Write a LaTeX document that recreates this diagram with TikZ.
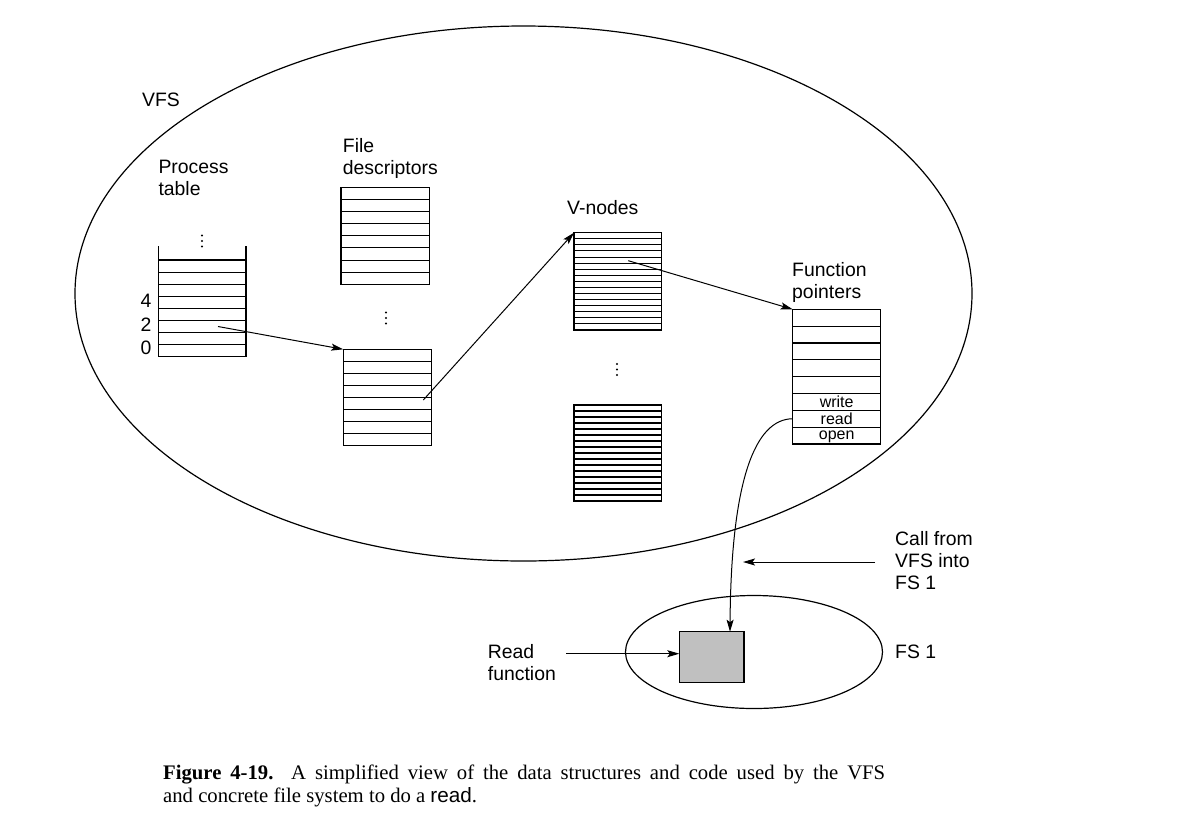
\documentclass[tikz,border=0pt]{standalone}
\usepackage{fontspec}
\setmainfont{Liberation Sans}
\newfontfamily\capserif{Liberation Serif}
\newfontfamily\capsans{Liberation Sans}
\usetikzlibrary{arrows.meta,calc,shapes.geometric}

\definecolor{boxgray}{RGB}{192,192,192}

\begin{document}
\begin{tikzpicture}[x=1pt,y=-1pt,
  % multi-line labels are placed by the baseline of their last line
  lbl/.style={inner sep=0pt, anchor=base west, align=left,
              font=\fontsize{19.4}{22}\selectfont},
  idx/.style={inner sep=0pt, anchor=base east, font=\fontsize{19.4}{22}\selectfont},
  cell/.style={inner sep=0pt, anchor=base, font=\fontsize{16}{16}\selectfont},
  tbl/.style={draw, line width=1.05pt, inner sep=0pt, outer sep=0pt, anchor=north west},
  rowline/.style={line width=1.05pt},
  conn/.style={line width=1pt, -{Stealth[length=12pt,width=7pt,inset=2.5pt]}},
  oval/.style={draw, ellipse, line width=1.2pt, inner sep=0pt},
  dot/.style={fill=black},
]
\useasboundingbox (0,0) rectangle (1200,831);

% ---------- outer ellipses ----------
\node[oval, minimum width=897pt, minimum height=535pt] (vfs) at (523.5,293.5) {};
\node[oval, minimum width=257pt, minimum height=113pt] (fs1) at (754,652) {};

% ---------- labels ----------
\node[lbl] (vfslbl) at (142,106) {VFS};
\node[lbl] (ptlbl) at (158.3,195.3) {Process\\table};
\node[lbl] (fdlbl) at (342.7,174.7) {File\\descriptors};
\node[lbl] (vnlbl) at (567,214) {V-nodes};
\node[lbl] (fplbl) at (792,298) {Function\\pointers};
\node[lbl] (calllbl) at (895,589) {Call from\\VFS into\\FS 1};
\node[lbl] (fs1lbl) at (895,658.5) {FS 1};
\node[lbl] (rflbl) at (487.7,680.3) {Read\\function};

% ---------- process table (open at the top) ----------
\node[inner sep=0pt, outer sep=0pt, anchor=north west,
      minimum width=87.7pt, minimum height=96.7pt] (pt) at (158.3,260) {};
\draw[rowline] ([yshift=14pt]pt.north west) -- (pt.south west)
               -- (pt.south east) -- ([yshift=14pt]pt.north east);
\foreach \i in {0,...,7}
  \draw[rowline] ($(pt.north west)!\i/8!(pt.south west)$) -- ($(pt.north east)!\i/8!(pt.south east)$);
\node[idx] (i4) at (151.7,307.3) {4};
\node[idx] (i2) at (151.7,331.7) {2};
\node[idx] (i0) at (151.7,354) {0};
\foreach \y in {235.5,241,246.5} \fill[dot] (202,\y) circle (1.2pt);

% ---------- file descriptor tables ----------
\node[tbl, minimum width=88.3pt, minimum height=97pt] (fd1) at (341,187.3) {};
\foreach \i in {1,...,7}
  \draw[rowline] ($(fd1.north west)!\i/8!(fd1.south west)$) -- ($(fd1.north east)!\i/8!(fd1.south east)$);
\foreach \y in {312.5,318,323.5} \fill[dot] (386,\y) circle (1.2pt);
\node[tbl, minimum width=88.4pt, minimum height=96pt] (fd2) at (343.3,349.3) {};
\foreach \i in {1,...,7}
  \draw[rowline] ($(fd2.north west)!\i/8!(fd2.south west)$) -- ($(fd2.north east)!\i/8!(fd2.south east)$);

% ---------- v-node tables ----------
\node[tbl, minimum width=87.7pt, minimum height=97.3pt] (vn1) at (574,232.7) {};
\foreach \i in {1,...,15}
  \draw[rowline] ($(vn1.north west)!\i/16!(vn1.south west)$) -- ($(vn1.north east)!\i/16!(vn1.south east)$);
\foreach \y in {364,369.5,375} \fill[dot] (617,\y) circle (1.2pt);
\node[tbl, minimum width=87.7pt, minimum height=96pt] (vn2) at (574,405) {};
\foreach \i in {1,...,15}
  \draw[rowline] ($(vn2.north west)!\i/16!(vn2.south west)$) -- ($(vn2.north east)!\i/16!(vn2.south east)$);

% ---------- function pointer table ----------
\node[tbl, minimum width=88pt, minimum height=134.7pt] (fp) at (792.7,309.3) {};
\foreach \i in {1,...,7}
  \draw[rowline] ($(fp.north west)!\i/8!(fp.south west)$) -- ($(fp.north east)!\i/8!(fp.south east)$);
\node[cell] (cwrite) at ($(fp.north)!6/8!(fp.south)+(0,-2.8)$) {write};
\node[cell] (cread)  at ($(fp.north)!7/8!(fp.south)+(0,-2.8)$) {read};
\node[cell] (copen)  at ($(fp.north)!8/8!(fp.south)+(0,-4.5)$) {open};

% ---------- read function in FS 1 ----------
\node[tbl, fill=boxgray, minimum width=64.7pt, minimum height=50.6pt] (rbox) at (679.3,631.7) {};

% ---------- connectors ----------
\coordinate (ptrow2) at (218,326.5);
\coordinate (fdslot) at (423.3,400);
\coordinate (vnslot) at (628.3,260.7);
\coordinate (readslot) at ($(fp.north west)!6.5/8!(fp.south west)$);
\coordinate (rboxtop) at (730,631.7);
\coordinate (rboxleft) at (679.3,653.7);
\coordinate (rfstart) at (566,653.7);
\coordinate (callstart) at (875,562);
\coordinate (callend) at (743,562);

\draw[conn] (ptrow2) -- (fd2.north west);
\draw[conn] (fdslot) -- (vn1.north west);
\draw[conn] (vnslot) -- (fp.north west);
\draw[conn] (readslot) .. controls (755,419) and (731,480) .. (rboxtop);
\draw[conn] (callstart) -- (callend);
\draw[conn] (rfstart) -- (rboxleft);

% ---------- caption ----------
\node[inner sep=0pt, anchor=base west, align=left,
      font=\capserif\fontsize{20.7}{23}\selectfont] (cap) at (163,802)
  {\makebox[722pt][s]{\textbf{Figure 4-19.}\ \ A simplified view of the data structures and code used by the VFS}\\
   and concrete file system to do a {\capsans read}.};
\end{tikzpicture}
\end{document}
